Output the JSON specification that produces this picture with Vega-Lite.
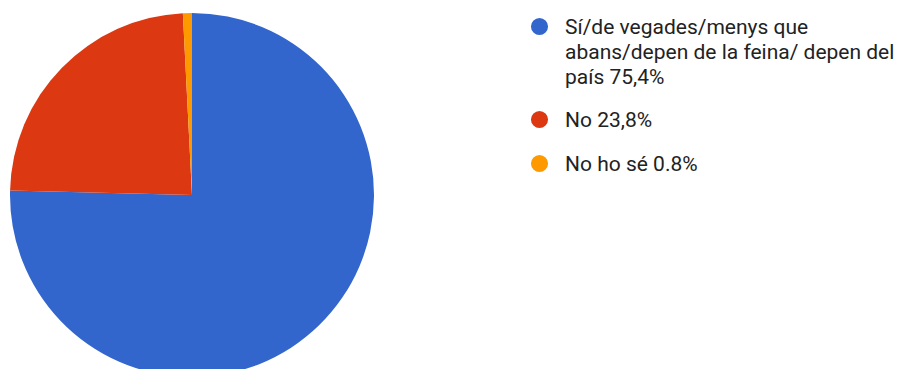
{
  "$schema": "https://vega.github.io/schema/vega-lite/v6.json",
  "width": 384,
  "height": 390,
  "padding": 0,
  "autosize": {"type": "pad"},
  "background": "white",
  "view": {"stroke": null},
  "config": {
    "style": {"guide-label": {"lineHeight": 25, "dy": 7}}
  },
  "data": {
    "values": [
      {"answer": "Sí/de vegades/menys que|abans/depen de la feina/ depen del|país 75,4%", "value": 75.4, "order": 1},
      {"answer": "No 23,8%", "value": 23.8, "order": 2},
      {"answer": "No ho sé 0.8%", "value": 0.8, "order": 3}
    ]
  },
  "mark": {"type": "arc", "outerRadius": 182, "stroke": "white", "strokeWidth": 0},
  "encoding": {
    "theta": {"field": "value", "type": "quantitative", "stack": true},
    "order": {"field": "order", "type": "quantitative", "sort": "ascending"},
    "color": {
      "field": "answer",
      "type": "nominal",
      "sort": {"field": "order"},
      "scale": {
        "domain": ["Sí/de vegades/menys que|abans/depen de la feina/ depen del|país 75,4%", "No 23,8%", "No ho sé 0.8%"],
        "range": ["#3366cc", "#dc3912", "#ff9900"]
      },
      "legend": {
        "orient": "none",
        "legendX": 529,
        "legendY": 16,
        "title": null,
        "symbolType": "circle",
        "symbolSize": 346,
        "symbolOpacity": 1,
        "labelExpr": "split(datum.label, '|')",
        "labelFont": "Roboto",
        "labelFontSize": 21,
        "labelColor": "#222222",
        "labelLimit": 500,
        "labelOffset": 15,
        "labelBaseline": "alphabetic",
        "rowPadding": 19
      }
    }
  }
}
